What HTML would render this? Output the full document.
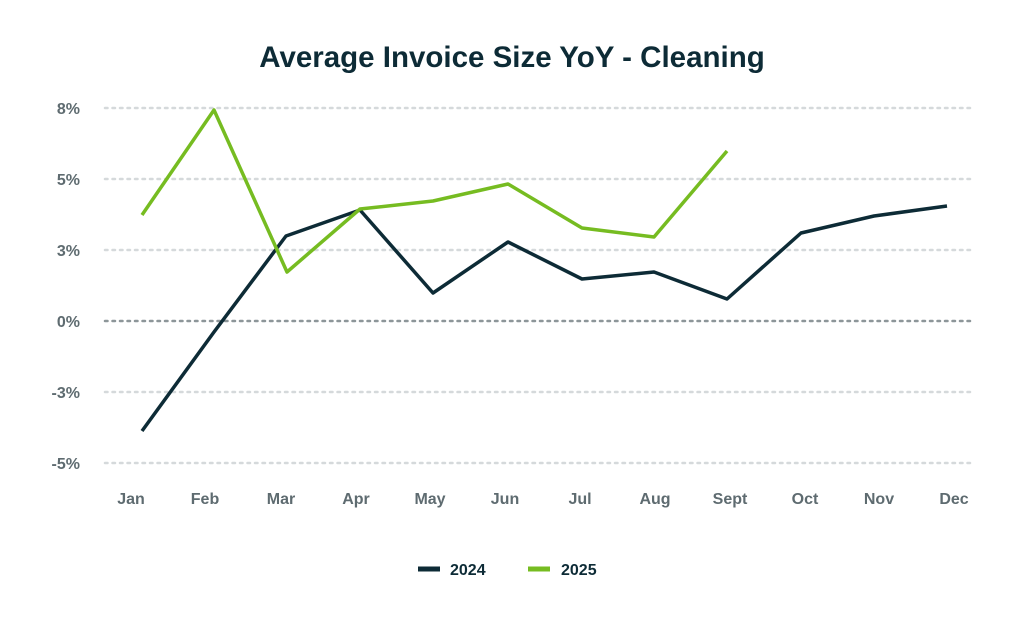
<!DOCTYPE html>
<html><head><style>
body{margin:0;background:#fff;}
svg{display:block;font-family:"Liberation Sans",sans-serif;}
</style></head><body>
<svg width="1024" height="620" viewBox="0 0 1024 620">
<rect width="1024" height="620" fill="#fff"/>
<text x="512" y="67" text-anchor="middle" font-size="29.5" font-weight="bold" fill="#0d2b36">Average Invoice Size YoY - Cleaning</text>
<g stroke="#d5d9db" stroke-width="2.5" stroke-dasharray="2.5 5" stroke-linecap="round">
<line x1="105" y1="108" x2="970" y2="108"/>
<line x1="105" y1="179" x2="970" y2="179"/>
<line x1="105" y1="250" x2="970" y2="250"/>
<line x1="105" y1="392" x2="970" y2="392"/>
<line x1="105" y1="463" x2="970" y2="463"/>
</g>
<line x1="105" y1="321" x2="970" y2="321" stroke="#8d9699" stroke-width="2.5" stroke-dasharray="2.5 5" stroke-linecap="round"/>
<g font-size="16" font-weight="bold" fill="#5e6b70" text-anchor="end">
<text x="80" y="114">8%</text>
<text x="80" y="185">5%</text>
<text x="80" y="256">3%</text>
<text x="80" y="327">0%</text>
<text x="80" y="398">-3%</text>
<text x="80" y="469">-5%</text>
</g>
<g font-size="16" font-weight="bold" fill="#5e6b70" text-anchor="middle">
<text x="131" y="504">Jan</text><text x="205" y="504">Feb</text><text x="281" y="504">Mar</text>
<text x="356" y="504">Apr</text><text x="430" y="504">May</text><text x="505" y="504">Jun</text>
<text x="580" y="504">Jul</text><text x="655" y="504">Aug</text><text x="730" y="504">Sept</text>
<text x="805" y="504">Oct</text><text x="879" y="504">Nov</text><text x="954" y="504">Dec</text>
</g>
<polyline fill="none" stroke="#0d2b36" stroke-width="3.5" stroke-linejoin="round" points="142,431 214,332 286,236 360,210 433,293 508,242 582,279 654,272 727,299 801,233 874,216 947,206"/>
<polyline fill="none" stroke="#76bc21" stroke-width="3.5" stroke-linejoin="round" points="142,215 214,110 287,272 360,209 433,201 508,184 582,228 654,237 727,151"/>
<line x1="418" y1="569" x2="440" y2="569" stroke="#0d2b36" stroke-width="5"/>
<text x="450" y="575" font-size="16" font-weight="bold" fill="#0d2b36">2024</text>
<line x1="528" y1="569" x2="550" y2="569" stroke="#76bc21" stroke-width="5"/>
<text x="561" y="575" font-size="16" font-weight="bold" fill="#0d2b36">2025</text>
</svg>
</body></html>
